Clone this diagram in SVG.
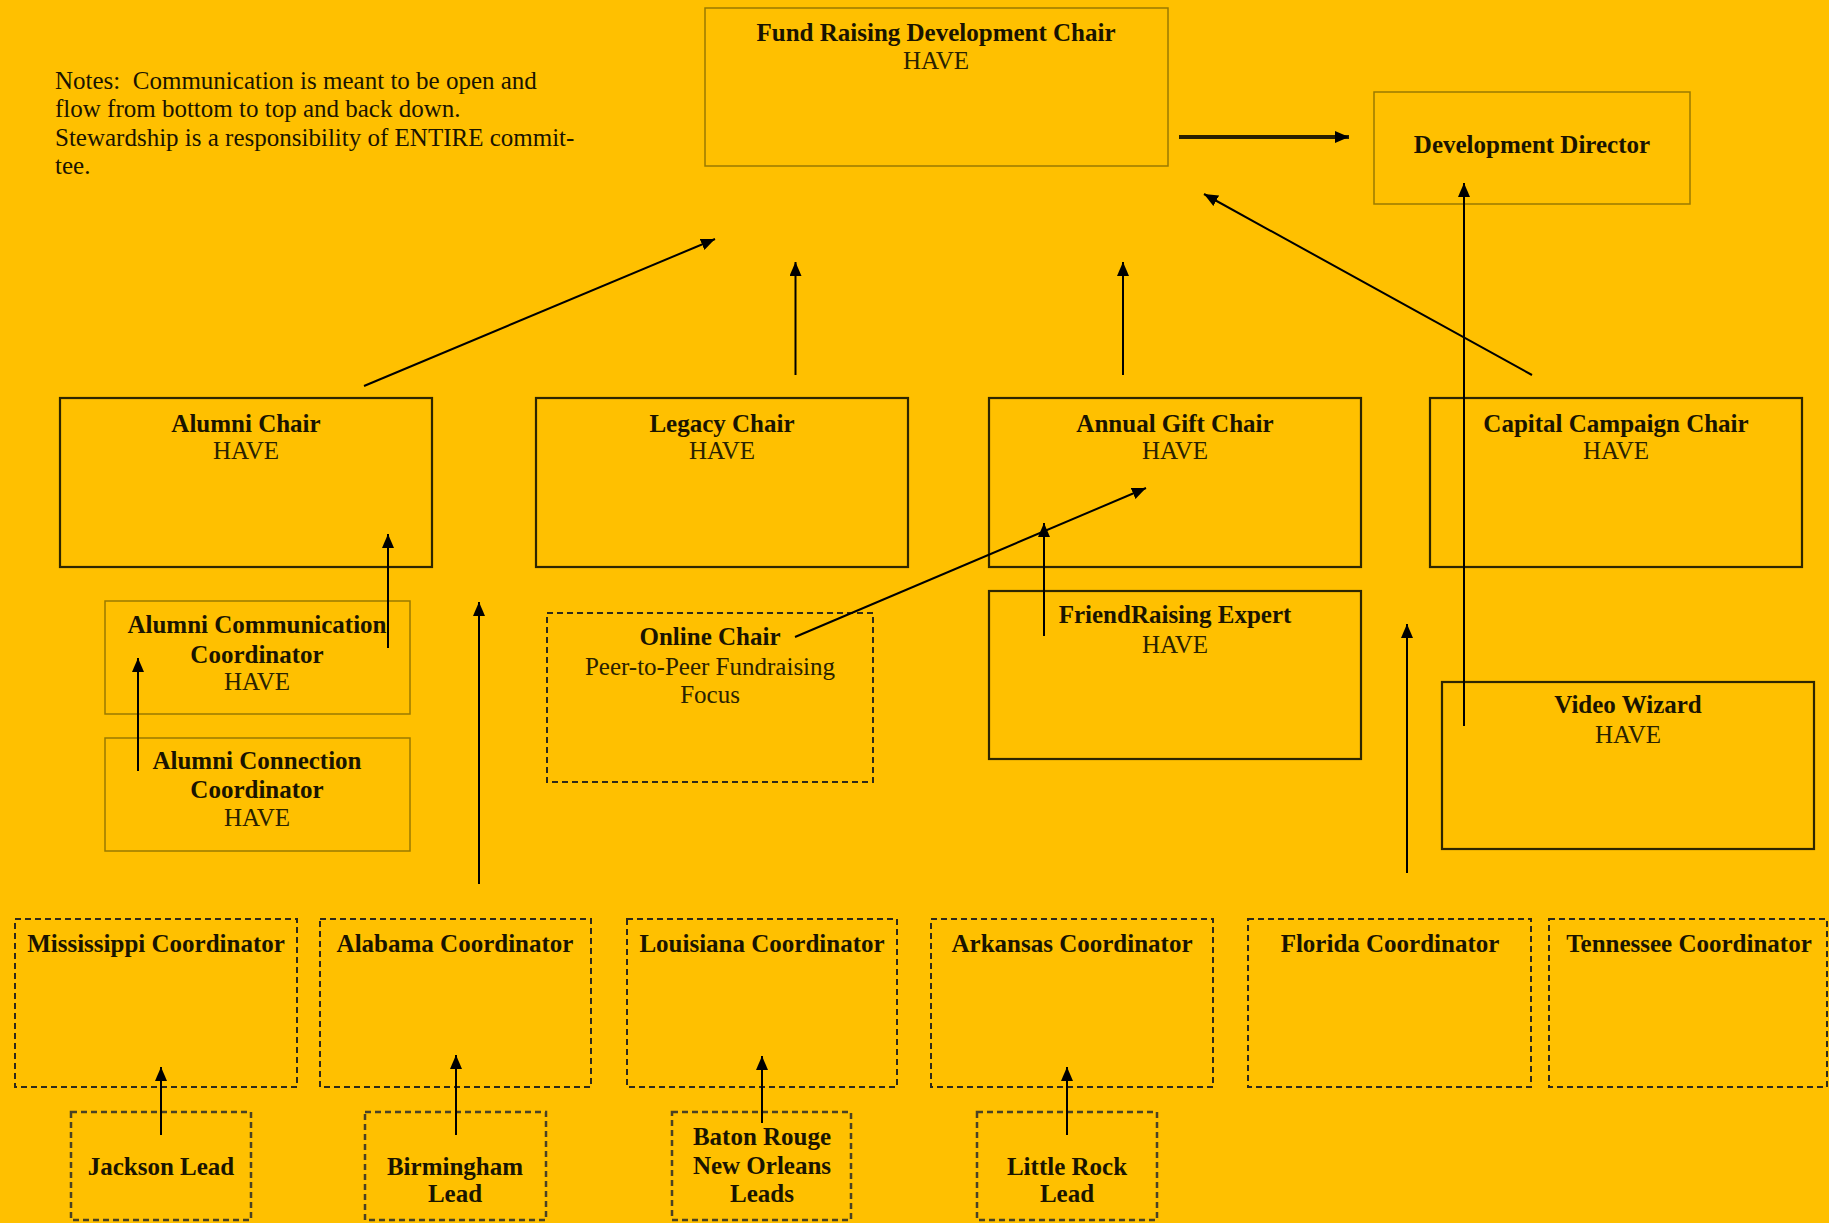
<svg xmlns="http://www.w3.org/2000/svg" width="1829" height="1223" viewBox="0 0 1829 1223">
<defs>
<style>
text{font-family:"Liberation Serif","Times New Roman",serif;font-size:25px;fill:#1a1400;text-anchor:middle}
.b{font-weight:bold}
.n{fill:#2a2200}
.thin{fill:none;stroke:#9a7a00;stroke-width:1.5}
.solid{fill:none;stroke:#2e2600;stroke-width:2.2}
.dash{fill:none;stroke:#2e2a1a;stroke-width:2;stroke-dasharray:6 4}
.lead{fill:none;stroke:#4a4224;stroke-width:2.5;stroke-dasharray:6 4}
.c{fill:none;stroke:#000;stroke-width:2;marker-end:url(#ah)}
</style>
<marker id="ah" markerUnits="userSpaceOnUse" markerWidth="15" markerHeight="12" refX="14" refY="6" orient="auto">
<path d="M0,0 L14,6 L0,12 Z" fill="#000"/>
</marker>
</defs>
<rect width="1829" height="1223" fill="#FFC000"/>

<g id="notes">
<text x="55" y="89" style="text-anchor:start;white-space:pre" xml:space="preserve">Notes:  Communication is meant to be open and</text>
<text x="55" y="117" style="text-anchor:start">flow from bottom to top and back down.</text>
<text x="55" y="146" style="text-anchor:start">Stewardship is a responsibility of ENTIRE commit-</text>
<text x="55" y="174" style="text-anchor:start">tee.</text>
</g>

<g id="fund-raising-chair">
<rect class="thin" x="705" y="8" width="463" height="158"/>
<text class="b" x="936" y="41">Fund Raising Development Chair</text>
<text class="n" x="936" y="69">HAVE</text>
</g>

<g id="development-director">
<rect class="thin" x="1374" y="92" width="316" height="112"/>
<text class="b" x="1532" y="153">Development Director</text>
</g>

<g id="alumni-chair">
<rect class="solid" x="60" y="398" width="372" height="169"/>
<text class="b" x="246" y="432">Alumni Chair</text>
<text class="n" x="246" y="459">HAVE</text>
</g>

<g id="legacy-chair">
<rect class="solid" x="536" y="398" width="372" height="169"/>
<text class="b" x="722" y="432">Legacy Chair</text>
<text class="n" x="722" y="459">HAVE</text>
</g>

<g id="annual-gift-chair">
<rect class="solid" x="989" y="398" width="372" height="169"/>
<text class="b" x="1175" y="432">Annual Gift Chair</text>
<text class="n" x="1175" y="459">HAVE</text>
</g>

<g id="capital-campaign-chair">
<rect class="solid" x="1430" y="398" width="372" height="169"/>
<text class="b" x="1616" y="432">Capital Campaign Chair</text>
<text class="n" x="1616" y="459">HAVE</text>
</g>

<g id="alumni-communication-coordinator">
<rect class="thin" x="105" y="601" width="305" height="113"/>
<text class="b" x="257" y="633">Alumni Communication</text>
<text class="b" x="257" y="663">Coordinator</text>
<text class="n" x="257" y="690">HAVE</text>
</g>

<g id="alumni-connection-coordinator">
<rect class="thin" x="105" y="738" width="305" height="113"/>
<text class="b" x="257" y="769">Alumni Connection</text>
<text class="b" x="257" y="798">Coordinator</text>
<text class="n" x="257" y="826">HAVE</text>
</g>

<g id="online-chair">
<rect class="dash" x="547" y="613" width="326" height="169"/>
<text class="b" x="710" y="645">Online Chair</text>
<text class="n" x="710" y="675">Peer-to-Peer Fundraising</text>
<text class="n" x="710" y="703">Focus</text>
</g>

<g id="friendraising-expert">
<rect class="solid" x="989" y="591" width="372" height="168"/>
<text class="b" x="1175" y="623">FriendRaising Expert</text>
<text class="n" x="1175" y="653">HAVE</text>
</g>

<g id="video-wizard">
<rect class="solid" x="1442" y="682" width="372" height="167"/>
<text class="b" x="1628" y="713">Video Wizard</text>
<text class="n" x="1628" y="743">HAVE</text>
</g>

<g id="mississippi-coordinator">
<rect class="dash" x="15" y="919" width="282" height="168"/>
<text class="b" x="156" y="952">Mississippi Coordinator</text>
</g>
<g id="alabama-coordinator">
<rect class="dash" x="320" y="919" width="271" height="168"/>
<text class="b" x="455" y="952">Alabama Coordinator</text>
</g>
<g id="louisiana-coordinator">
<rect class="dash" x="627" y="919" width="270" height="168"/>
<text class="b" x="762" y="952">Louisiana Coordinator</text>
</g>
<g id="arkansas-coordinator">
<rect class="dash" x="931" y="919" width="282" height="168"/>
<text class="b" x="1072" y="952">Arkansas Coordinator</text>
</g>
<g id="florida-coordinator">
<rect class="dash" x="1248" y="919" width="283" height="168"/>
<text class="b" x="1390" y="952">Florida Coordinator</text>
</g>
<g id="tennessee-coordinator">
<rect class="dash" x="1549" y="919" width="278" height="168"/>
<text class="b" x="1689" y="952">Tennessee Coordinator</text>
</g>

<g id="jackson-lead">
<rect class="lead" x="71" y="1112" width="180" height="108"/>
<text class="b" x="161" y="1175">Jackson Lead</text>
</g>
<g id="birmingham-lead">
<rect class="lead" x="365" y="1112" width="181" height="108"/>
<text class="b" x="455" y="1175">Birmingham</text>
<text class="b" x="455" y="1202">Lead</text>
</g>
<g id="baton-rouge-new-orleans-leads">
<rect class="lead" x="672" y="1112" width="179" height="108"/>
<text class="b" x="762" y="1145">Baton Rouge</text>
<text class="b" x="762" y="1174">New Orleans</text>
<text class="b" x="762" y="1202">Leads</text>
</g>
<g id="little-rock-lead">
<rect class="lead" x="977" y="1112" width="180" height="108"/>
<text class="b" x="1067" y="1175">Little Rock</text>
<text class="b" x="1067" y="1202">Lead</text>
</g>

<g id="connectors">
<line x1="1179" y1="137" x2="1349" y2="137" stroke="#2a2000" stroke-width="4" marker-end="url(#ah)"/>
<line class="c" x1="364" y1="386" x2="715" y2="239"/>
<line class="c" x1="795.5" y1="375" x2="795.5" y2="262"/>
<line class="c" x1="1123" y1="375" x2="1123" y2="262"/>
<line class="c" x1="1532" y1="375" x2="1204" y2="194"/>
<line class="c" x1="1464" y1="726" x2="1464" y2="183"/>
<line class="c" x1="388" y1="648" x2="388" y2="534"/>
<line class="c" x1="138" y1="771" x2="138" y2="658"/>
<line class="c" x1="479" y1="884" x2="479" y2="602"/>
<line class="c" x1="795" y1="637" x2="1146" y2="488"/>
<line class="c" x1="1044" y1="636" x2="1044" y2="523"/>
<line class="c" x1="1407" y1="873" x2="1407" y2="624"/>
<line class="c" x1="161" y1="1135" x2="161" y2="1067"/>
<line class="c" x1="456" y1="1135" x2="456" y2="1055"/>
<line class="c" x1="762" y1="1123" x2="762" y2="1056"/>
<line class="c" x1="1067" y1="1135" x2="1067" y2="1067"/>
</g>
</svg>
